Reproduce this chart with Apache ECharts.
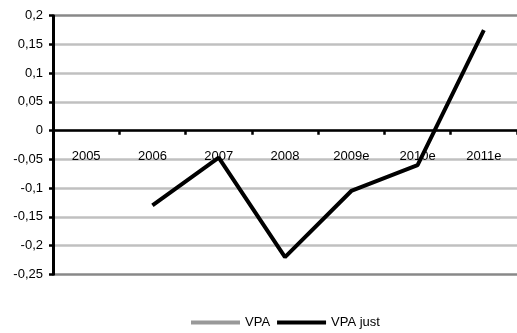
<!DOCTYPE html>
<html>
<head>
<meta charset="utf-8">
<script src="https://cdn.jsdelivr.net/npm/echarts@6/dist/echarts.min.js"></script>
<style>
html,body{margin:0;padding:0;background:#fff;}
#chart{width:517px;height:333px;}
</style>
</head>
<body>
<div id="chart"></div>
<script>
const categories = ['2005', '2006', '2007', '2008', '2009e', '2010e', '2011e'];
const vpa = [null, null, null, null, null, null, null];
const vpaJust = [null, -0.13, -0.047, -0.22, -0.105, -0.06, 0.175];
const seriesNames = ['VPA', 'VPA just'];
const yMin = -0.25, yMax = 0.2, yStep = 0.05;

const FONT = '"Liberation Sans", Arial, sans-serif';
const splitColors = ['#888888'];
for (let i = 0; i < 8; i++) splitColors.push('#c0c0c0');
splitColors.push('#888888');

const gridTop = 15.7, gridBottom = 58.7, H = 333;
const gridH = H - gridTop - gridBottom;
const zeroOffset = -(gridH * (0 - yMin) / (yMax - yMin));

const chart = echarts.init(document.getElementById('chart'), null, {renderer: 'canvas'});
chart.setOption({
  animation: false,
  backgroundColor: '#ffffff',
  grid: {left: 53, top: gridTop, width: 468, bottom: gridBottom, containLabel: false},
  legend: {
    left: 186, top: 311,
    itemWidth: 49, itemHeight: 4, itemGap: 7,
    icon: 'rect',
    textStyle: {fontFamily: FONT, fontSize: 13, color: '#000'},
    data: seriesNames
  },
  xAxis: {
    type: 'category',
    data: categories,
    boundaryGap: true,
    offset: zeroOffset,
    axisLine: {onZero: false, lineStyle: {color: '#000', width: 2.5}},
    axisTick: {show: true, length: 4, lineStyle: {color: '#000', width: 2.5}},
    axisLabel: {fontFamily: FONT, fontSize: 13, color: '#000', margin: 19},
    splitLine: {show: false}
  },
  yAxis: {
    type: 'value',
    min: yMin, max: yMax, interval: yStep,
    axisLine: {show: true, lineStyle: {color: '#000', width: 3}},
    axisTick: {show: true, length: 4, lineStyle: {color: '#000', width: 2.5}},
    axisLabel: {
      fontFamily: FONT, fontSize: 13, color: '#000', margin: 10,
      formatter: v => String(Math.round(v * 100) / 100).replace('.', ',')
    },
    splitLine: {show: true, lineStyle: {color: splitColors, width: 2.5}}
  },
  series: [
    {name: seriesNames[0], type: 'line', data: vpa, symbol: 'none', color: '#999999',
     lineStyle: {width: 4, color: '#999999'}},
    {name: seriesNames[1], type: 'line', data: vpaJust, symbol: 'none', color: '#000000',
     lineStyle: {width: 4, color: '#000000'}, connectNulls: false}
  ]
});
</script>
</body>
</html>
